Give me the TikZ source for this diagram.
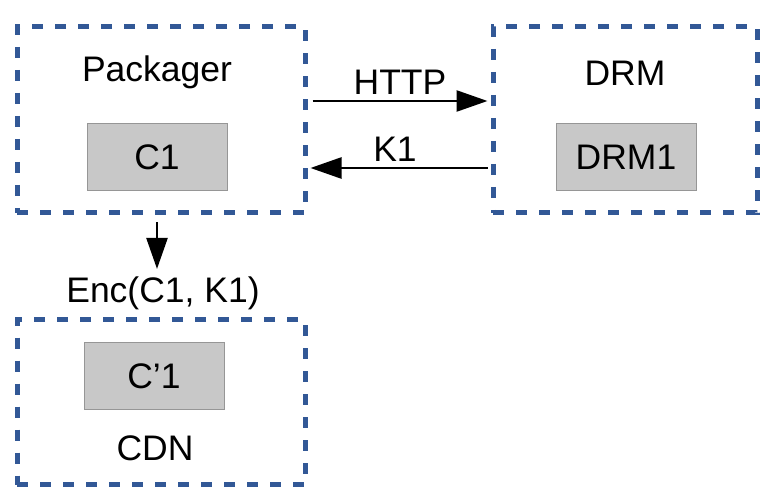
\documentclass[tikz,border=0pt]{standalone}
\usepackage{fontspec}
\setmainfont{Liberation Sans}
\usetikzlibrary{arrows.meta,positioning}
\definecolor{dashblue}{RGB}{50,88,150}
\definecolor{boxgrey}{RGB}{200,200,200}
\definecolor{edgegrey}{RGB}{150,150,150}
\tikzset{
  group/.style={draw=dashblue,line width=5pt,dash pattern=on 11pt off 12pt},
  part/.style={draw=edgegrey,fill=boxgrey,line width=1pt,minimum width=140pt,minimum height=67pt},
  flow/.style={line width=2.5pt,-{Triangle[length=31pt,width=21pt]}},
  every node/.style={font=\fontsize{35.5}{42}\selectfont}
}
\begin{document}
\begin{tikzpicture}[x=1pt,y=-1pt]
\useasboundingbox (0,0) rectangle (780,500);
\node[group,minimum width=288pt,minimum height=186pt] (pkg) at (161,120) {};
\node[group,minimum width=264pt,minimum height=186pt] (drm) at (625,120) {};
\node[group,minimum width=288pt,minimum height=165pt] (cdn) at (161,402) {};

\node (pkgname) at (157,72) {Packager};
\node (drmname) at (625,73) {DRM};
\node (cdnname) at (155,448) {CDN};
\node[part] (c1) at (157,157) {C1};
\node[part] (drm1) at (626,157) {DRM1};
\node[part] (cc1) at (154,376) {C’1};
\node (enc) at (163,293) {Enc(C1, K1)};

\draw[flow,shorten <=5pt,shorten >=3pt] ([yshift=19pt]pkg.east) -- ([yshift=19pt]drm.west)
  node[midway,above=2pt,xshift=1pt] {HTTP};
\draw[flow,shorten <=3pt,shorten >=3pt] ([yshift=-48pt]drm.west) -- ([yshift=-48pt]pkg.east)
  node[midway,above=2pt,xshift=-4pt] {K1};
\draw[flow,shorten <=7pt,shorten >=4pt] ([xshift=-4pt]pkg.south) -- ([xshift=-4pt]pkg.south |- enc.north);
\end{tikzpicture}
\end{document}
